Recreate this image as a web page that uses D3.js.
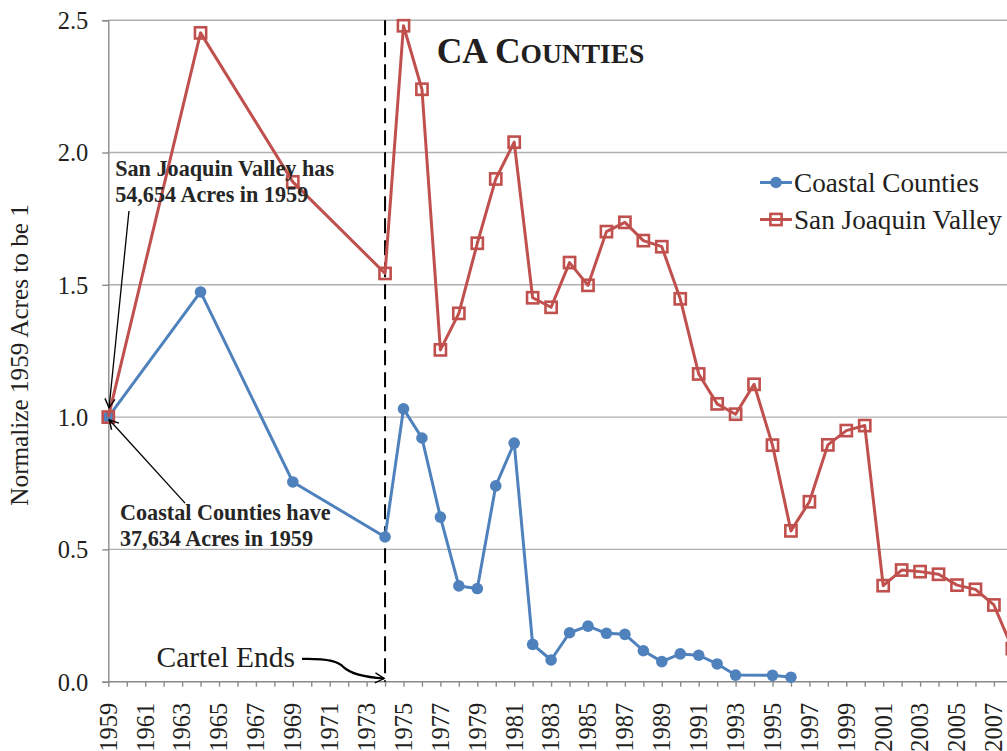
<!DOCTYPE html>
<html><head><meta charset="utf-8">
<script src="https://cdn.jsdelivr.net/npm/d3@7"></script>
<style>
html,body{margin:0;padding:0;background:#fff;}
svg{display:block;}
svg text{font-family:"Liberation Serif","Times New Roman",serif;}
</style></head>
<body>
<svg id="chart" width="1007" height="751"></svg>
<script>
// ---- data ----
const years = [1959,1960,1961,1962,1963,1964,1965,1966,1967,1968,1969,1970,1971,1972,1973,1974,1975,1976,1977,1978,1979,1980,1981,1982,1983,1984,1985,1986,1987,1988,1989,1990,1991,1992,1993,1994,1995,1996,1997,1998,1999,2000,2001,2002,2003,2004,2005,2006,2007,2008];
const coastal = [1.0,null,null,null,null,1.473,null,null,null,null,0.755,null,null,null,null,0.547,1.031,0.921,0.622,0.362,0.352,0.740,0.902,0.141,0.082,0.185,0.210,0.183,0.179,0.117,0.076,0.105,0.100,0.067,0.025,null,0.024,0.017,null,null,null,null,null,null,null,null,null,null,null,null];
const sanJoaquin = [1.0,null,null,null,null,2.452,null,null,null,null,1.889,null,null,null,null,1.543,2.479,2.239,1.254,1.392,1.657,1.900,2.039,1.451,1.415,1.584,1.498,1.701,1.736,1.667,1.644,1.447,1.163,1.050,1.011,1.124,0.894,0.570,0.680,0.895,0.949,0.968,0.363,0.422,0.416,0.406,0.365,0.349,0.290,0.125];
const seriesNames = ["Coastal Counties","San Joaquin Valley"];
const yTicks = [0.0,0.5,1.0,1.5,2.0,2.5];
const xLabelYears = [1959,1961,1963,1965,1967,1969,1971,1973,1975,1977,1979,1981,1983,1985,1987,1989,1991,1993,1995,1997,1999,2001,2003,2005,2007];
const cartelYear = 1974;
const titleMain = "CA C", titleSmall = "OUNTIES";
const noteSJV = ["San Joaquin Valley has","54,654 Acres in 1959"];
const noteCoastal = ["Coastal Counties have","37,634 Acres in 1959"];
const yTitle = "Normalize 1959 Acres to be 1";
const cartelText = "Cartel Ends";

// ---- layout ----
const svg = d3.select("#chart");
const blue = "#4f81bd", red = "#c0504d", textCol = "#231f20";
const x = d3.scaleLinear().domain([1959, 2008]).range([108.3, 108.3 + 49 * 18.45]);
const y = d3.scaleLinear().domain([0, 2.5]).range([681.7, 20.2]);
const xR = x.range()[1] + 10;

svg.append("defs").append("marker")
  .attr("id","arr").attr("viewBox","-10 -6 12 12").attr("refX",0).attr("refY",0)
  .attr("markerWidth",12).attr("markerHeight",12).attr("markerUnits","userSpaceOnUse")
  .attr("orient","auto")
  .append("path").attr("d","M-9,-5 L0,0 L-9,5").attr("fill","none").attr("stroke","#000").attr("stroke-width",1.4);

// gridlines
svg.append("g").selectAll("line").data(yTicks.filter(d => d > 0)).join("line")
  .attr("x1", x(1959)).attr("x2", xR).attr("y1", d => y(d)).attr("y2", d => y(d))
  .attr("stroke","#b0b0b0").attr("stroke-width",1.4);

// y axis
const yAxis = svg.append("g").attr("transform",`translate(${x(1959)},0)`)
  .call(d3.axisLeft(y).tickValues(yTicks).tickFormat(d3.format(".1f")).tickSize(6).tickPadding(14));
yAxis.attr("font-family",null);
yAxis.select(".domain").attr("stroke","#8a8a8a").attr("stroke-width",1.4);
yAxis.selectAll(".tick line").attr("stroke","#8a8a8a").attr("stroke-width",1.4);
yAxis.selectAll("text").attr("font-size",24.5).attr("fill",textCol).attr("dy","0.34em");

// x axis
const xAxis = svg.append("g").attr("transform",`translate(0,${y(0)})`)
  .call(d3.axisBottom(x).tickValues(years).tickSize(5).tickFormat(""));
xAxis.select(".domain").attr("d",`M${x(1959)},0H${xR}`).attr("stroke","#8a8a8a").attr("stroke-width",1.4);
xAxis.selectAll(".tick line").attr("stroke","#8a8a8a").attr("stroke-width",1.4);
svg.append("g").selectAll("text").data(xLabelYears).join("text")
  .attr("transform", d => `translate(${x(d)},${y(0) + 21}) rotate(-90)`)
  .attr("text-anchor","end").attr("dy","0.34em")
  .attr("font-size",24.5).attr("fill",textCol)
  .text(d => d);

// y title
svg.append("text").attr("transform",`translate(28,${(y(0.65)+y(1.82))/2}) rotate(-90)`)
  .attr("text-anchor","middle").attr("font-size",25.2).attr("fill",textCol)
  .text(yTitle);

// cartel dashed line
svg.append("line").attr("x1",x(cartelYear)).attr("x2",x(cartelYear)).attr("y1",y(2.5)).attr("y2",y(0))
  .attr("stroke","#000").attr("stroke-width",2).attr("stroke-dasharray","15,7");

// series
function pts(vals){ return years.map((yr,i)=>({yr, v: vals[i]})).filter(d => d.v !== null); }
const line = d3.line().x(d => x(d.yr)).y(d => y(d.v));
const cData = pts(coastal), sData = pts(sanJoaquin);
svg.append("path").datum(cData).attr("d",line).attr("fill","none").attr("stroke",blue).attr("stroke-width",3).attr("stroke-linejoin","round");
svg.append("g").selectAll("circle").data(cData).join("circle")
  .attr("cx", d => x(d.yr)).attr("cy", d => y(d.v)).attr("r",5.8).attr("fill",blue);
svg.append("path").datum(sData).attr("d",line).attr("fill","none").attr("stroke",red).attr("stroke-width",3).attr("stroke-linejoin","round");
svg.append("g").selectAll("rect").data(sData).join("rect")
  .attr("x", d => x(d.yr) - 5.6).attr("y", d => y(d.v) - 5.6).attr("width",11.2).attr("height",11.2)
  .attr("fill","none").attr("stroke",red).attr("stroke-width",2.6);

// title
const t = svg.append("text").attr("x", x(1976.8)).attr("y", y(2.338))
  .attr("font-weight","bold").attr("fill",textCol);
t.append("tspan").attr("font-size",35.5).text(titleMain);
t.append("tspan").attr("font-size",27.5).text(titleSmall);

// legend
const lg = svg.append("g");
[[blue,"c"],[red,"s"]].forEach(([col,kind],i) => {
  const cy = 182.5 + i * 37;
  lg.append("line").attr("x1",760).attr("x2",792).attr("y1",cy).attr("y2",cy).attr("stroke",col).attr("stroke-width",3);
  if (kind === "c") lg.append("circle").attr("cx",776).attr("cy",cy).attr("r",5.8).attr("fill",col);
  else lg.append("rect").attr("x",770.4).attr("y",cy-5.6).attr("width",11.2).attr("height",11.2).attr("fill","none").attr("stroke",col).attr("stroke-width",2.6);
  lg.append("text").attr("x",794).attr("y",cy+9).attr("font-size",27.2).attr("fill",textCol).text(seriesNames[i]);
});

// annotations
function note(lines, yr, v){
  const g = svg.append("text").attr("font-weight","bold").attr("font-size",22.2).attr("fill","#262626");
  lines.forEach((l,i) => g.append("tspan").attr("x", x(yr)).attr("y", y(v) + i*25.5).text(l));
}
note(noteSJV, 1959.37, 1.910);
note(noteCoastal, 1959.63, 0.611);
svg.append("line").attr("x1",x(1960.12)).attr("y1",y(1.779)).attr("x2",x(1959.04)).attr("y2",y(1.035))
  .attr("stroke","#000").attr("stroke-width",1.3).attr("marker-end","url(#arr)");
svg.append("line").attr("x1",x(1963.16)).attr("y1",y(0.675)).attr("x2",x(1959.05)).attr("y2",y(0.99))
  .attr("stroke","#000").attr("stroke-width",1.3).attr("marker-end","url(#arr)");

// cartel ends text and curved arrow
svg.append("text").attr("x", x(1969.12)).attr("y", y(0.055)).attr("text-anchor","end")
  .attr("font-size",29.5).attr("fill",textCol).text(cartelText);
const cp = [[1969.5,0.086],[1971.0,0.088],[1971.5,0.075],[1971.75,0.055],[1972.2,0.025],[1973.1,0.016],[1973.95,0.012]];
const p = cp.map(([a,b]) => [x(a), y(b)]);
svg.append("path")
  .attr("d", `M${p[0]}C${p[1]} ${p[2]} ${p[3]}C${p[4]} ${p[5]} ${p[6]}`)
  .attr("fill","none").attr("stroke","#000").attr("stroke-width",2.2).attr("marker-end","url(#arr)");
</script>
</body></html>
